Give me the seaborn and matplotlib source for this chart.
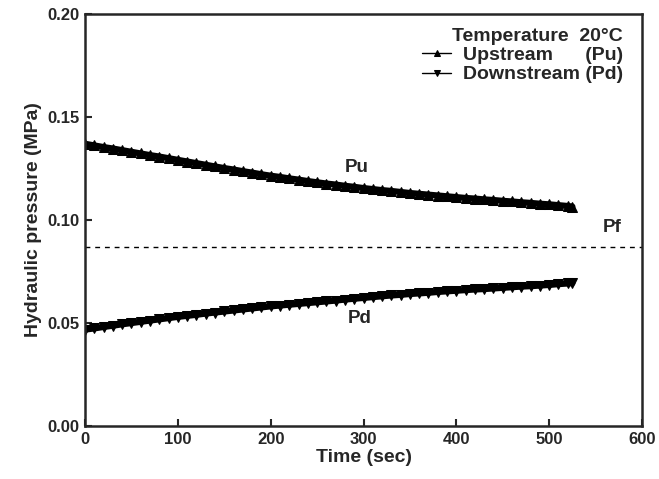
import numpy as np
import pandas as pd
import matplotlib
matplotlib.use("Agg")
import matplotlib.pyplot as plt
from matplotlib.legend_handler import HandlerLine2D
import seaborn as sns

# Time samples (sec)
time_s = [0, 10, 20, 30, 40, 50, 60, 70, 80, 90, 100, 110, 120, 130, 140, 150,
          160, 170, 180, 190, 200, 210, 220, 230, 240, 250, 260, 270, 280, 290,
          300, 310, 320, 330, 340, 350, 360, 370, 380, 390, 400, 410, 420, 430,
          440, 450, 460, 470, 480, 490, 500, 510, 520, 525]

# Upstream pressure Pu (MPa)
pu = [0.1370, 0.1362, 0.1354, 0.1347, 0.1339, 0.1331, 0.1323, 0.1315, 0.1308,
      0.1300, 0.1292, 0.1284, 0.1276, 0.1268, 0.1260, 0.1252, 0.1245, 0.1237,
      0.1230, 0.1222, 0.1215, 0.1209, 0.1202, 0.1196, 0.1189, 0.1183, 0.1177,
      0.1172, 0.1166, 0.1161, 0.1155, 0.1150, 0.1145, 0.1141, 0.1136, 0.1131,
      0.1127, 0.1123, 0.1119, 0.1115, 0.1111, 0.1107, 0.1104, 0.1100, 0.1097,
      0.1093, 0.1090, 0.1086, 0.1083, 0.1079, 0.1076, 0.1072, 0.1068, 0.1065]

# Downstream pressure Pd (MPa)
pd_vals = [0.0468, 0.0474, 0.0481, 0.0487, 0.0494, 0.0500, 0.0506, 0.0512,
           0.0518, 0.0524, 0.0530, 0.0535, 0.0540, 0.0546, 0.0551, 0.0556,
           0.0561, 0.0566, 0.0571, 0.0576, 0.0581, 0.0585, 0.0589, 0.0593,
           0.0597, 0.0601, 0.0605, 0.0609, 0.0614, 0.0618, 0.0622, 0.0626,
           0.0630, 0.0634, 0.0637, 0.0641, 0.0644, 0.0647, 0.0651, 0.0654,
           0.0657, 0.0660, 0.0663, 0.0665, 0.0668, 0.0671, 0.0674, 0.0677,
           0.0679, 0.0682, 0.0685, 0.0689, 0.0692, 0.0694]

# Reference pressure Pf (MPa)
pf = 0.0869

x_ticks = [0, 100, 200, 300, 400, 500, 600]
y_ticks = [0.00, 0.05, 0.10, 0.15, 0.20]

sns.set_style("ticks")
plt.rcParams["font.family"] = ["Liberation Sans", "DejaVu Sans"]
plt.rcParams["font.weight"] = "bold"
plt.rcParams["xtick.direction"] = "in"
plt.rcParams["ytick.direction"] = "in"

df = pd.DataFrame({"time": time_s, "Pu": pu, "Pd": pd_vals})

fig = plt.figure(figsize=(6.59, 4.79), dpi=100)
ax = fig.add_axes([0.129, 0.1106, 0.8452, 0.8601])

sns.lineplot(data=df, x="time", y="Pu", ax=ax, color="black", lw=4.5,
             marker="^", markersize=6.5, markeredgecolor="black",
             label="Upstream      (Pu)")
sns.lineplot(data=df, x="time", y="Pd", ax=ax, color="black", lw=4.5,
             marker="v", markersize=6.5, markeredgecolor="black",
             label="Downstream (Pd)")
ax.axhline(pf, color="black", lw=1.0, ls=(0, (3.5, 3.5)))

ax.set_xlim(0, 600)
ax.set_ylim(0.0, 0.2)
ax.set_xticks(x_ticks)
ax.set_yticks(y_ticks)
ax.set_yticklabels([f"{v:.2f}" for v in y_ticks])
ax.tick_params(length=5, width=1.5, labelsize=12, pad=4)
for lab in ax.get_xticklabels() + ax.get_yticklabels():
    lab.set_fontweight("bold")
for sp in ax.spines.values():
    sp.set_linewidth(1.8)
    sp.set_visible(True)

ax.set_xlabel("Time (sec)", fontsize=14, fontweight="bold", labelpad=2)
ax.set_ylabel("Hydraulic pressure (MPa)", fontsize=14, fontweight="bold",
              labelpad=4)

ax.text(293, 0.1257, "Pu", ha="center", va="center", fontsize=13.5,
        fontweight="bold")
ax.text(296, 0.0522, "Pd", ha="center", va="center", fontsize=13.5,
        fontweight="bold")
ax.text(568, 0.0966, "Pf", ha="center", va="center", fontsize=13.5,
        fontweight="bold")


class LeftMarkerHandler(HandlerLine2D):
    """Legend key with the marker at the left end of the line."""

    def get_xdata(self, legend, xdescent, ydescent, width, height, fontsize):
        xdata = np.array([-xdescent, -xdescent + width])
        return xdata, np.array([-xdescent])


handles, labels = ax.get_legend_handles_labels()
leg = ax.legend(handles, labels, loc="upper right", frameon=False,
                bbox_to_anchor=(0.985, 0.992),
                title="Temperature  20\u00b0C", fontsize=14,
                title_fontproperties={"weight": "bold", "size": 14},
                handlelength=1.5, handletextpad=0.6, labelspacing=0.08,
                borderaxespad=0.3, borderpad=0.25, numpoints=1,
                handler_map={h: LeftMarkerHandler() for h in handles})
for h in leg.legend_handles:
    h.set_linewidth(1.0)
    h.set_markersize(5)
leg._legend_box.align = "right"

fig.savefig("out.png", dpi=100)
